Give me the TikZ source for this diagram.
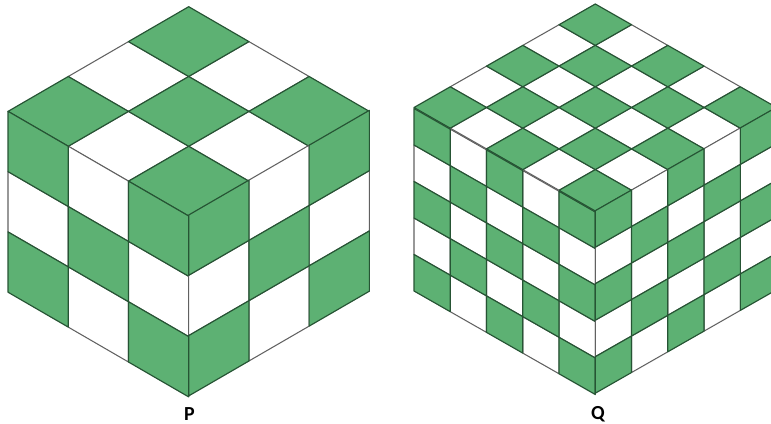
\documentclass[tikz,border=0pt]{standalone}
\usepackage{fontspec}
\setmainfont{Carlito}
\usetikzlibrary{calc}
\definecolor{cubegreen}{RGB}{93,177,115}
\definecolor{cubeline}{RGB}{38,84,52}
\tikzset{
    cell0/.style={fill=cubegreen,draw=cubeline,line width=1pt,line join=round},
    cell1/.style={fill=white,draw=black!62,line width=0.9pt,line join=round},
    cubelabel/.style={font=\fontsize{17}{17}\selectfont\bfseries,inner sep=0pt}
}
% one checkered face: corner, first edge, second edge, number of cells
\newcommand{\cubeface}[4]{
    \foreach \pass in {1,0}
        \foreach \i in {1,...,#4}
            \foreach \j in {1,...,#4} {
                \pgfmathtruncatemacro{\cellodd}{mod(\i+\j,2)}
                \ifnum\cellodd=\pass
                    \draw[cell\pass] ($(#1)+{\i-1}*(#2)+{\j-1}*(#3)$)
                        -- ($(#1)+\i*(#2)+{\j-1}*(#3)$)
                        -- ($(#1)+\i*(#2)+\j*(#3)$)
                        -- ($(#1)+{\i-1}*(#2)+\j*(#3)$) -- cycle;
                \fi
            }
}

\begin{document}
\begin{tikzpicture}[x=0.03cm,y=-0.03cm]
    \useasboundingbox (0,0) rectangle (771,424);

    \begin{scope}
    \clip (0,0) rectangle (771,424);

    % cube P
    \coordinate (ptop) at (188.7,6.7);
    \coordinate (pleft) at (8,111.3);
    \coordinate (pmid) at (188.7,215);
    \coordinate (pu) at (60.23,34.9);
    \coordinate (pv) at (-60.23,34.9);
    \coordinate (pw) at (60.23,-34.9);
    \coordinate (pd) at (0,60.3);
    \cubeface{ptop}{pu}{pv}{3}
    \cubeface{pleft}{pu}{pd}{3}
    \cubeface{pmid}{pw}{pd}{3}

    % cube Q
    \coordinate (qtop) at (595.3,4);
    \coordinate (qleft) at (414,108.5);
    \coordinate (qmid) at (595.3,210.7);
    \coordinate (qu) at (36.26,20.7);
    \coordinate (qv) at (-36.26,20.7);
    \coordinate (qw) at (36.26,-20.7);
    \coordinate (qd) at (0,36.5);
    \cubeface{qtop}{qu}{qv}{5}
    \cubeface{qleft}{qu}{qd}{5}
    \cubeface{qmid}{qw}{qd}{5}
    \end{scope}

    \node[cubelabel] (labelp) at (189.3,414) {P};
    \node[cubelabel] (labelq) at (598,414) {Q};
\end{tikzpicture}
\end{document}
